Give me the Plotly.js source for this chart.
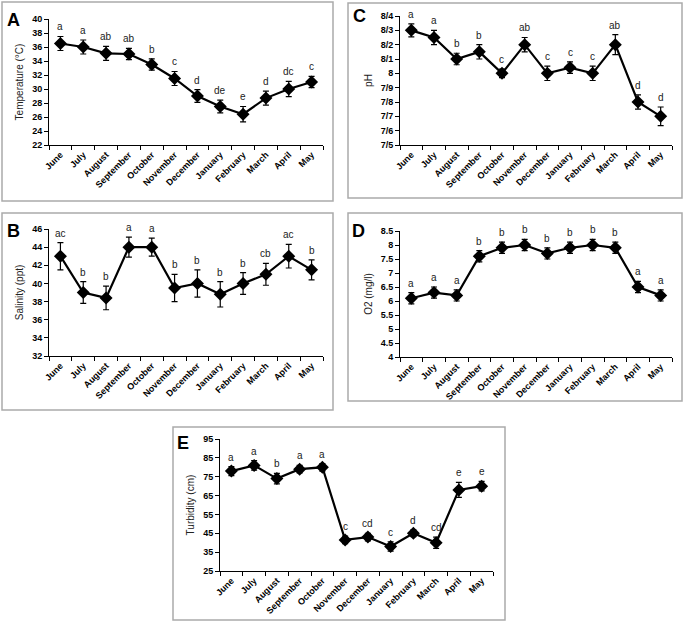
<!DOCTYPE html>
<html><head><meta charset="utf-8">
<script src="https://cdn.plot.ly/plotly-3.0.1.min.js"></script>
<style>html,body{margin:0;padding:0;background:#fff}#chart{width:685px;height:627px}</style>
</head><body><div id="chart"></div>
<script>
const months = ["June","July","August","September","October","November","December","January","February","March","April","May"];

const tempMean = [36.5, 36.0, 35.1, 35.0, 33.5, 31.5, 29.0, 27.5, 26.4, 28.7, 30.0, 31.0];
const tempErr  = [1.0, 1.0, 1.0, 0.8, 0.8, 1.0, 0.9, 0.9, 1.1, 1.0, 1.1, 0.8];
const tempLetters = ["a","a","ab","ab","b","c","d","de","e","d","dc","c"];

const phMean = [8.30, 8.25, 8.10, 8.15, 8.00, 8.20, 8.00, 8.04, 8.00, 8.20, 7.80, 7.70];
const phErr  = [0.045, 0.05, 0.04, 0.05, 0.03, 0.05, 0.05, 0.04, 0.05, 0.07, 0.05, 0.065];
const phLetters = ["a","a","b","b","c","ab","c","c","c","ab","d","d"];
const phTickVals = [7.5, 7.6, 7.7, 7.8, 7.9, 8.0, 8.1, 8.2, 8.3, 8.4];
const phTickText = ["7/5","7/6","7/7","7/8","7/9","8","8/1","8/2","8/3","8/4"];

const salMean = [43.0, 39.0, 38.4, 44.0, 44.0, 39.5, 40.0, 38.8, 40.0, 41.0, 43.0, 41.5];
const salErr  = [1.5, 1.2, 1.3, 1.1, 1.0, 1.5, 1.5, 1.4, 1.2, 1.2, 1.3, 1.1];
const salLetters = ["ac","b","b","a","a","b","b","b","b","cb","ac","b"];

const o2Mean = [6.1, 6.3, 6.2, 7.6, 7.9, 8.0, 7.7, 7.9, 8.0, 7.9, 6.5, 6.2];
const o2Err  = [0.2, 0.2, 0.2, 0.2, 0.2, 0.2, 0.2, 0.2, 0.2, 0.2, 0.2, 0.2];
const o2Letters = ["a","a","a","b","b","b","b","b","b","b","a","a"];

const turbMean = [78, 81, 74, 79, 80, 41.5, 43, 38, 45, 40, 68, 70];
const turbErr  = [2.4, 2.5, 2.8, 2.0, 2.0, 2.0, 2.0, 2.5, 1.8, 3.0, 4.0, 2.5];
const turbLetters = ["a","a","b","a","a","c","cd","c","d","cd","e","e"];

const W = 685, H = 627;
const px = p => p / W;
const py = p => 1 - p / H;

const panels = [
  {ax:"", mean:tempMean, err:tempErr, letters:tempLetters, title:"Temperature (°C)", range:[22,40], dtick:2,
   plot:[49,323,19,145], box:[2,333,2,201], tag:"A", tagPos:[13,20]},
  {ax:"2", mean:phMean, err:phErr, letters:phLetters, title:"pH", range:[7.5,8.4], tickvals:phTickVals, ticktext:phTickText,
   plot:[400,672,16,145], box:[348,682,3,198], tag:"C", tagPos:[359,16]},
  {ax:"3", mean:salMean, err:salErr, letters:salLetters, title:"Salinity (ppt)", range:[32,46], dtick:2,
   plot:[49,323,229,356], box:[2,333,213,410], tag:"B", tagPos:[13,231]},
  {ax:"4", mean:o2Mean, err:o2Err, letters:o2Letters, title:"O2 (mg/l)", range:[4,8.5], dtick:0.5,
   plot:[400,672,231,357], box:[348,682,213,401], tag:"D", tagPos:[358,231]},
  {ax:"5", mean:turbMean, err:turbErr, letters:turbLetters, title:"Turbidity (cm)", range:[25,95], dtick:10,
   plot:[220,493,439,571], box:[173,505,427,620], tag:"E", tagPos:[183,443]}
];

const traces = [];
const layout = {
  width: W, height: H,
  margin: {l:0, r:0, t:0, b:0},
  paper_bgcolor: "#fff", plot_bgcolor: "#fff",
  showlegend: false,
  font: {family: "Liberation Sans, Arial, sans-serif", color: "#000"},
  annotations: [], shapes: []
};

panels.forEach(p => {
  const xa = "x" + p.ax, ya = "y" + p.ax;
  traces.push({
    type: "scatter", mode: "lines+markers",
    x: months, y: p.mean, xaxis: xa, yaxis: ya,
    line: {color: "#000", width: 2.2},
    marker: {symbol: "diamond", size: 10, color: "#000"},
    error_y: {type: "data", array: p.err, visible: true, color: "#000", thickness: 1.2, width: 3},
    cliponaxis: false
  });
  const xKey = "xaxis" + p.ax, yKey = "yaxis" + p.ax;
  layout[xKey] = {
    domain: [px(p.plot[0]), px(p.plot[1])], anchor: ya,
    type: "category", categoryorder: "array", categoryarray: months,
    range: [-0.5, 11.5], tickson: "boundaries",
    ticks: "outside", ticklen: 4, tickcolor: "#000", tickwidth: 1,
    showline: true, linecolor: "#000", linewidth: 1,
    showgrid: false, zeroline: false, tickangle: -45,
    tickfont: {family: "Liberation Sans, Arial, sans-serif", size: 9, color: "#000", weight: "bold"},
    fixedrange: true
  };
  const yax = {
    domain: [py(p.plot[3]), py(p.plot[2])], anchor: xa,
    range: p.range, ticks: "outside", ticklen: 4, tickcolor: "#000", tickwidth: 1,
    showline: true, linecolor: "#000", linewidth: 1,
    showgrid: false, zeroline: false,
    tickfont: {family: "Liberation Sans, Arial, sans-serif", size: 9, color: "#000", weight: "bold"},
    title: {text: p.title, font: {size: 10, color: "#222"}, standoff: 6},
    fixedrange: true
  };
  if (p.tickvals) { yax.tickmode = "array"; yax.tickvals = p.tickvals; yax.ticktext = p.ticktext; }
  else { yax.tick0 = p.range[0]; yax.dtick = p.dtick; }
  layout[yKey] = yax;

  p.letters.forEach((t, i) => {
    layout.annotations.push({
      x: months[i], y: p.mean[i] + p.err[i], xref: xa, yref: ya,
      text: t, showarrow: false, yanchor: "bottom", yshift: 2,
      font: {size: 10, color: "#222"}
    });
  });
  layout.annotations.push({
    x: px(p.tagPos[0]), y: py(p.tagPos[1]), xref: "paper", yref: "paper",
    text: p.tag, showarrow: false, xanchor: "center", yanchor: "middle",
    font: {size: 18, color: "#000", weight: "bold"}
  });
  layout.shapes.push({
    type: "rect", xref: "paper", yref: "paper",
    x0: px(p.box[0]), x1: px(p.box[1]), y0: py(p.box[3]), y1: py(p.box[2]),
    line: {color: "#aaa", width: 1.5}, fillcolor: "rgba(0,0,0,0)"
  });
});

Plotly.newPlot("chart", traces, layout, {displayModeBar: false, staticPlot: true});
</script>
</body></html>
